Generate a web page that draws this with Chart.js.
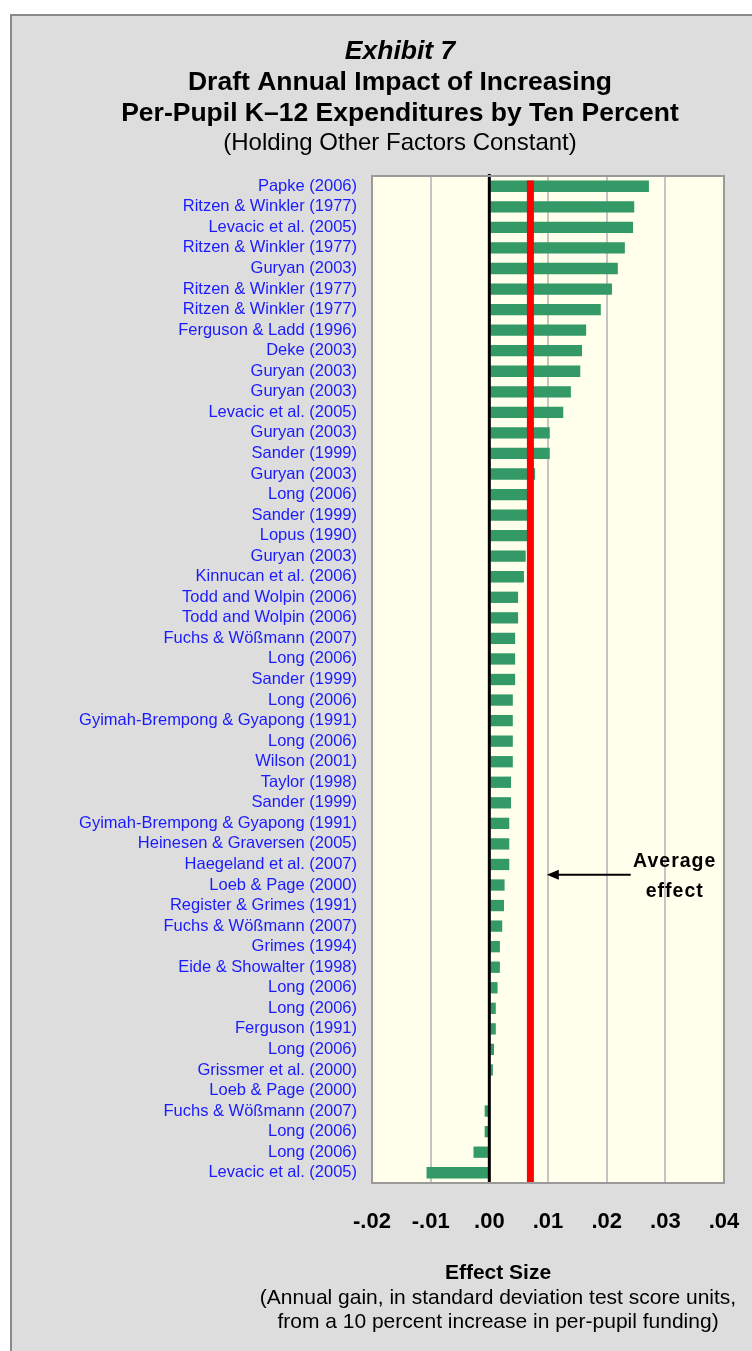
<!DOCTYPE html>
<html>
<head>
<meta charset="utf-8">
<title>Exhibit 7</title>
<script src="https://cdn.jsdelivr.net/npm/chart.js@4.4.1/dist/chart.umd.min.js"></script>
<style>
    html, body { margin: 0; padding: 0; background: #ffffff; overflow: hidden; }
    #frame {
        position: absolute; left: 10px; top: 14px;
        width: 740px; height: 1335px;
        background: #dddddd;
        border-left: 2px solid #8a8a8a; border-top: 2px solid #8a8a8a;
    }
    #impactChart { position: absolute; left: 0; top: 0; }
</style>
</head>
<body>
<div id="frame">
    <canvas id="impactChart" width="740" height="1335"></canvas>
</div>
<script>
// Studies, top to bottom
const studies = [
    'Papke (2006)', 'Ritzen & Winkler (1977)', 'Levacic et al. (2005)', 'Ritzen & Winkler (1977)',
    'Guryan (2003)', 'Ritzen & Winkler (1977)', 'Ritzen & Winkler (1977)', 'Ferguson & Ladd (1996)',
    'Deke (2003)', 'Guryan (2003)', 'Guryan (2003)', 'Levacic et al. (2005)', 'Guryan (2003)',
    'Sander (1999)', 'Guryan (2003)', 'Long (2006)', 'Sander (1999)', 'Lopus (1990)', 'Guryan (2003)',
    'Kinnucan et al. (2006)', 'Todd and Wolpin (2006)', 'Todd and Wolpin (2006)', 'Fuchs & Wößmann (2007)',
    'Long (2006)', 'Sander (1999)', 'Long (2006)', 'Gyimah-Brempong & Gyapong (1991)', 'Long (2006)',
    'Wilson (2001)', 'Taylor (1998)', 'Sander (1999)', 'Gyimah-Brempong & Gyapong (1991)',
    'Heinesen & Graversen (2005)', 'Haegeland et al. (2007)', 'Loeb & Page (2000)', 'Register & Grimes (1991)',
    'Fuchs & Wößmann (2007)', 'Grimes (1994)', 'Eide & Showalter (1998)', 'Long (2006)', 'Long (2006)',
    'Ferguson (1991)', 'Long (2006)', 'Grissmer et al. (2000)', 'Loeb & Page (2000)',
    'Fuchs & Wößmann (2007)', 'Long (2006)', 'Long (2006)', 'Levacic et al. (2005)'
];

// Effect sizes (SD units per year)
const effects = [
    0.0272, 0.0247, 0.0245, 0.0231, 0.0219, 0.0209, 0.0190, 0.0165, 0.0158, 0.0155,
    0.0139, 0.0126, 0.0103, 0.0103, 0.0078, 0.0071, 0.0069, 0.0067, 0.0062, 0.0059,
    0.0049, 0.0049, 0.0044, 0.0044, 0.0044, 0.0040, 0.0040, 0.0040, 0.0040, 0.0037,
    0.0037, 0.0034, 0.0034, 0.0034, 0.0026, 0.0025, 0.0022, 0.0018, 0.0018, 0.0014,
    0.0011, 0.0011, 0.0008, 0.0006, 0.0000, -0.0008, -0.0008, -0.0027, -0.0107
];

const averageEffect = 0.007;

const tickLabels = ['-.02', '-.01', '.00', '.01', '.02', '.03', '.04'];

const headerLines = [
    { text: 'Exhibit 7', font: 'italic bold 26.5px "Liberation Sans", Arial' },
    { text: 'Draft Annual Impact of Increasing', font: 'bold 26.5px "Liberation Sans", Arial' },
    { text: 'Per-Pupil K\u201312 Expenditures by Ten Percent', font: 'bold 26.5px "Liberation Sans", Arial' },
    { text: '(Holding Other Factors Constant)', font: '24px "Liberation Sans", Arial' }
];

const footerLines = [
    { text: 'Effect Size', font: 'bold 21px "Liberation Sans", Arial' },
    { text: '(Annual gain, in standard deviation test score units,', font: '21px "Liberation Sans", Arial' },
    { text: 'from a 10 percent increase in per-pupil funding)', font: '21px "Liberation Sans", Arial' }
];

// Cream plot background and grey frame
const plotFrame = {
    id: 'plotFrame',
    beforeDraw(chart) {
        const { ctx, chartArea: a } = chart;
        ctx.save();
        ctx.fillStyle = '#ffffec';
        ctx.fillRect(a.left, a.top, a.right - a.left, a.bottom - a.top);
        ctx.restore();
    },
    afterDraw(chart) {
        const { ctx, chartArea: a } = chart;
        ctx.save();
        ctx.strokeStyle = '#9a9a9a';
        ctx.lineWidth = 2;
        ctx.strokeRect(a.left, a.top, a.right - a.left, a.bottom - a.top);
        ctx.restore();
    }
};

// Zero line, average line and the arrow note
const overlays = {
    id: 'overlays',
    afterDatasetsDraw(chart) {
        const { ctx, chartArea: a, scales: { x, y } } = chart;
        const bars = chart.getDatasetMeta(0).data;
        ctx.save();

        // zero line
        const x0 = x.getPixelForValue(0);
        ctx.strokeStyle = '#000000';
        ctx.lineWidth = 3;
        ctx.beginPath();
        ctx.moveTo(x0, a.top - 2);
        ctx.lineTo(x0, a.bottom + 1);
        ctx.stroke();

        // average effect line
        const xa = x.getPixelForValue(averageEffect);
        const topBar = bars[0];
        ctx.strokeStyle = '#ff0000';
        ctx.lineWidth = 7;
        ctx.beginPath();
        ctx.moveTo(xa, topBar.y - topBar.height / 2);
        ctx.lineTo(xa, a.bottom);
        ctx.stroke();

        // arrow
        const ay = (y.getPixelForValue(33) + y.getPixelForValue(34)) / 2;
        const tip = x.getPixelForValue(0.0098);
        const tail = x.getPixelForValue(0.0241);
        ctx.strokeStyle = '#000000';
        ctx.lineWidth = 2;
        ctx.beginPath();
        ctx.moveTo(tail, ay);
        ctx.lineTo(tip + 8, ay);
        ctx.stroke();
        ctx.fillStyle = '#000000';
        ctx.beginPath();
        ctx.moveTo(tip, ay);
        ctx.lineTo(tip + 12, ay - 5);
        ctx.lineTo(tip + 12, ay + 5);
        ctx.closePath();
        ctx.fill();

        ctx.font = 'bold 19.5px "Liberation Sans", Arial';
        ctx.letterSpacing = '1px';
        ctx.textAlign = 'center';
        ctx.textBaseline = 'middle';
        const tx = x.getPixelForValue(0.0316);
        ctx.fillText('Average', tx, ay - 13);
        ctx.fillText('effect', tx, ay + 17);
        ctx.restore();
    }
};

// Header and footer text
const textBlocks = {
    id: 'textBlocks',
    afterDraw(chart) {
        const ctx = chart.ctx;
        ctx.save();
        ctx.fillStyle = '#000000';
        ctx.textAlign = 'center';
        ctx.textBaseline = 'middle';
        const headY = [36, 67, 98, 127];
        headerLines.forEach((line, i) => {
            ctx.font = line.font;
            ctx.fillText(line.text, 388, headY[i]);
        });
        const footY = [1257, 1282, 1306];
        footerLines.forEach((line, i) => {
            ctx.font = line.font;
            ctx.fillText(line.text, 486, footY[i]);
        });
        ctx.restore();
    }
};

const ctx = document.getElementById('impactChart').getContext('2d');
const impactChart = new Chart(ctx, {
    type: 'bar',
    data: {
        labels: studies,
        datasets: [{
            data: effects,
            backgroundColor: '#339966',
            borderWidth: 0,
            barPercentage: 0.55,
            categoryPercentage: 1.0
        }]
    },
    options: {
        indexAxis: 'y',
        responsive: false,
        animation: false,
        layout: { padding: { left: 0, right: 28, top: 160, bottom: 108 } },
        plugins: {
            legend: { display: false },
            tooltip: { enabled: false }
        },
        scales: {
            x: {
                min: -0.02,
                max: 0.04,
                afterFit: (scale) => {
                    scale.height = 60;
                    // keep the edge tick labels from shrinking the plot
                    scale.paddingLeft = 0;
                    scale.paddingRight = 0;
                },
                border: { display: false },
                grid: { color: '#c4c4c4', lineWidth: 2, drawTicks: false },
                ticks: {
                    stepSize: 0.01,
                    padding: 26,
                    color: '#000000',
                    font: { family: '"Liberation Sans", Arial', size: 22, weight: 'bold' },
                    callback: (value, index) => tickLabels[index]
                }
            },
            y: {
                afterFit: (scale) => {
                    scale.width = 360;
                    scale.paddingTop = 0;
                    scale.paddingBottom = 0;
                },
                border: { display: false },
                grid: { display: false, drawTicks: false },
                ticks: {
                    autoSkip: false,
                    padding: 15,
                    color: '#1a1aff',
                    font: { family: '"Liberation Sans", Arial', size: 16.5 }
                }
            }
        }
    },
    plugins: [plotFrame, overlays, textBlocks]
});
</script>
</body>
</html>
